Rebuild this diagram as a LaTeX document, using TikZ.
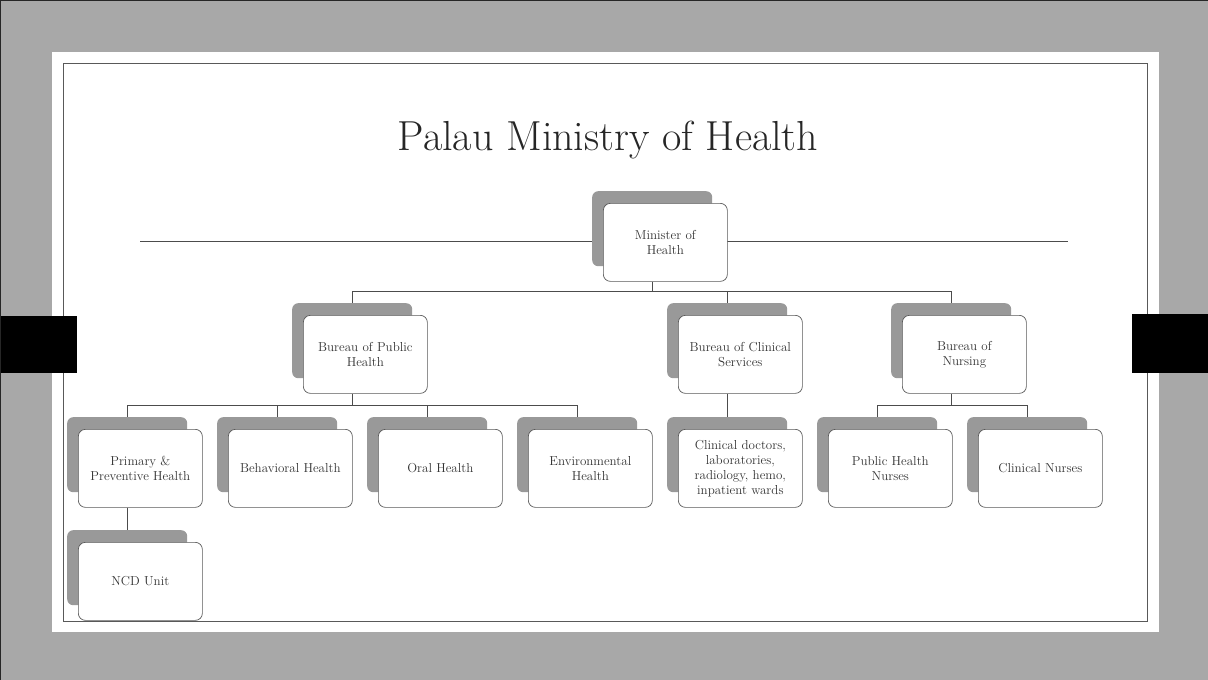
\documentclass[tikz,border=0pt]{standalone}
\usepackage{tikz}
\usepackage{xcolor}
\usetikzlibrary{positioning}
\usetikzlibrary{calc}
\newcommand{\orgbox}[3]{%
    \node [backbox, anchor=north west] (#1s) at (#2) {};
    \node [frontbox, anchor=north west] (#1) at ($ (#1s.north west) + (11,12) $) {#3};%
}
\tikzset{
    backbox/.style={fill=black!40, rounded corners=6pt, minimum width=120pt, minimum height=75pt, inner sep=0pt},
    frontbox/.style={draw=black!65, line width=0.7pt, fill=white, rounded corners=7pt,
        minimum width=124pt, minimum height=78pt, inner sep=2pt, align=center,
        text=black!80, font=\fontsize{13}{15}\selectfont},
    link/.style={draw=black!70, line width=0.8pt}
}

\begin{document}
\begin{tikzpicture}[x=1pt, y=-1pt]
    \useasboundingbox (0,0) rectangle (1208,680);
    \fill [black!34] (0,0) rectangle (1208,680);
    \draw [black!85, line width=1.2pt] (0.6,680) -- (0.6,0.6) -- (1208,0.6);
    \fill [white] (52,52) rectangle (1159,632);
    \draw [black!65, line width=0.8pt] (63,63) rectangle (1147,621);
    \fill [black] (1,316) rectangle (77,373);
    \fill [black] (1132,314) rectangle (1208,373);

    \node [anchor=base, text=black!85, font=\fontsize{42}{50}\selectfont] (title) at (608,150) {Palau Ministry of Health};
    \draw [black!70, line width=0.8pt] (140,241) -- (1068,241);

    %%%%%%

    \orgbox{min}{592,191}{Minister of\\Health};

    \orgbox{pub}{292,303}{Bureau of Public\\Health};
    \orgbox{cli}{667,303}{Bureau of Clinical\\Services};
    \orgbox{nur}{891,303}{Bureau of\\Nursing};

    \draw [link] (mins.center |- min.south) -- ++(0,10) coordinate (M) -| (pubs.north);
    \draw [link] (M) -| (clis.north);
    \draw [link] (M) -| (nurs.north);

    %%%%%%

    \orgbox{prim}{67,417}{Primary \&\\Preventive Health};
    \orgbox{beh}{217,417}{Behavioral Health};
    \orgbox{oral}{367,417}{Oral Health};
    \orgbox{env}{517,417}{Environmental\\Health};
    \orgbox{doc}{667,417}{Clinical doctors,\\laboratories,\\radiology, hemo,\\inpatient wards};
    \orgbox{phn}{817,417}{Public Health\\Nurses};
    \orgbox{cln}{967,417}{Clinical Nurses};

    \draw [link] (pubs.center |- pub.south) -- ++(0,12) coordinate (P) -| (prims.north);
    \draw [link] (P) -| (behs.north);
    \draw [link] (P) -| (orals.north);
    \draw [link] (P) -| (envs.north);
    \draw [link] (clis.center |- cli.south) -- (docs.north);
    \draw [link] (nurs.center |- nur.south) -- ++(0,12) coordinate (N) -| (phns.north);
    \draw [link] (N) -| (clns.north);

    %%%%%%

    \orgbox{ncd}{67,530}{NCD Unit};
    \draw [link] (prims.center |- prim.south) -- (ncds.north);

\end{tikzpicture}
\end{document}
